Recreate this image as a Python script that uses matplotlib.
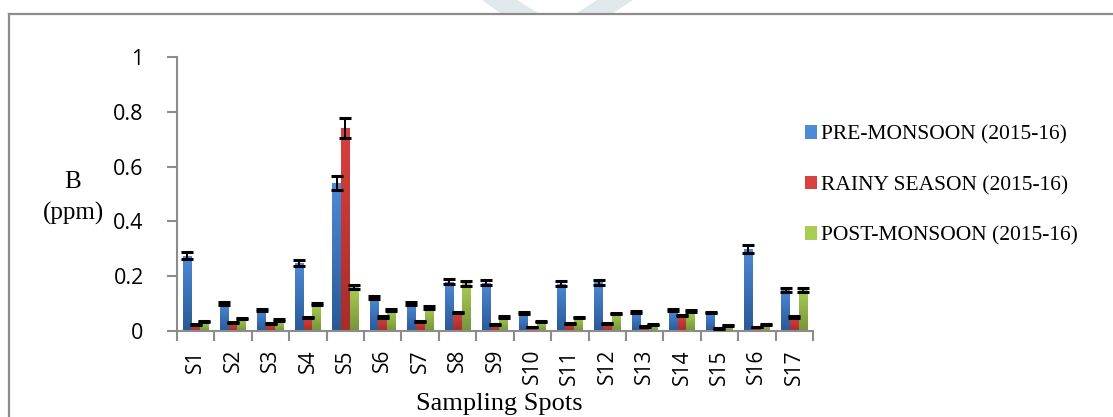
import numpy as np
import matplotlib
matplotlib.use("Agg")
import matplotlib.pyplot as plt
from matplotlib.colors import LinearSegmentedColormap
from matplotlib.lines import Line2D
from matplotlib.patches import Patch, Polygon

# Boron (ppm) at each sampling spot, three seasons of 2015-16
spots = ["S1", "S2", "S3", "S4", "S5", "S6", "S7", "S8", "S9", "S10",
         "S11", "S12", "S13", "S14", "S15", "S16", "S17"]
pre_monsoon = [0.275, 0.100, 0.077, 0.248, 0.540, 0.123, 0.100, 0.180, 0.177,
               0.065, 0.172, 0.178, 0.070, 0.076, 0.067, 0.300, 0.150]
pre_err = [0.014, 0.005, 0.004, 0.012, 0.027, 0.006, 0.005, 0.009, 0.009,
           0.003, 0.009, 0.009, 0.004, 0.004, 0.003, 0.015, 0.007]
rainy = [0.024, 0.032, 0.026, 0.049, 0.740, 0.050, 0.034, 0.067, 0.025,
         0.015, 0.026, 0.028, 0.017, 0.057, 0.010, 0.015, 0.052]
rainy_err = [0.002, 0.002, 0.002, 0.003, 0.036, 0.003, 0.002, 0.003, 0.002,
             0.001, 0.002, 0.002, 0.001, 0.003, 0.001, 0.001, 0.003]
post_monsoon = [0.036, 0.044, 0.040, 0.099, 0.160, 0.077, 0.086, 0.174, 0.052,
                0.036, 0.049, 0.064, 0.024, 0.072, 0.020, 0.023, 0.150]
post_err = [0.002, 0.002, 0.002, 0.005, 0.008, 0.004, 0.004, 0.009, 0.003,
            0.002, 0.002, 0.003, 0.001, 0.004, 0.001, 0.001, 0.007]
series_names = ["PRE-MONSOON (2015-16)", "RAINY SEASON (2015-16)",
                "POST-MONSOON (2015-16)"]
y_ticks = [0, 0.2, 0.4, 0.6, 0.8, 1.0]
y_tick_labels = ["0", "0.2", "0.4", "0.6", "0.8", "1"]

# (top colour, bottom colour) for the shaded fills
shades = [("#4d8ad8", "#2a5996"), ("#d8413e", "#a52d2b"), ("#a9cc52", "#76953a")]
AXIS_GREY = "#8c8c8c"
SANS = "Open Sans"
SERIF = "Liberation Serif"

fig = plt.figure(figsize=(11.13, 4.17), dpi=100)
ax = fig.add_axes([177 / 1113, 1 - 331 / 417, 636 / 1113, 274 / 417])

x = np.arange(len(spots))
width = 0.233
grad = np.linspace(0, 1, 64).reshape(-1, 1)

data = [(pre_monsoon, pre_err), (rainy, rainy_err), (post_monsoon, post_err)]
for k, (vals, errs) in enumerate(data):
    pos = x + (k - 1) * width
    bars = ax.bar(pos, vals, width, color="none", edgecolor="none", zorder=2)
    cmap = LinearSegmentedColormap.from_list(f"shade{k}", [shades[k][1], shades[k][0]])
    for bar in bars:
        bx, by = bar.get_xy()
        im = ax.imshow(grad, extent=[bx, bx + bar.get_width(), by, by + bar.get_height()],
                       origin="lower", aspect="auto", cmap=cmap, zorder=2,
                       interpolation="bilinear")
        im.set_clip_path(bar)
    ax.errorbar(pos, vals, yerr=errs, fmt="none", ecolor="black",
                elinewidth=1.4, capsize=4.6, capthick=2.2, zorder=3)

ax.set_xlim(-0.5, len(spots) - 0.5)
ax.set_ylim(0, 1)
ax.set_aspect("auto")

for side in ["top", "right"]:
    ax.spines[side].set_visible(False)
for side in ["left", "bottom"]:
    ax.spines[side].set_color(AXIS_GREY)
    ax.spines[side].set_linewidth(1.5)

ax.set_yticks(y_ticks, y_tick_labels)
ax.tick_params(axis="y", length=7, width=1.5, color=AXIS_GREY, pad=17,
               labelsize=15.5)
ax.set_xticks(x, spots, rotation=90)
ax.set_xticks(np.arange(len(spots) + 1) - 0.5, minor=True)
ax.tick_params(axis="x", which="major", length=0, pad=13, labelsize=15)
ax.tick_params(axis="x", which="minor", length=7, width=1.5, color=AXIS_GREY)
for lab in ax.get_xticklabels() + ax.get_yticklabels():
    lab.set_fontfamily(SANS)

fig.text(499 / 1113, 1 - 404 / 417, "Sampling Spots", family=SERIF,
         fontsize=19, ha="center", va="center")
fig.text(73 / 1113, 1 - 182 / 417, "B", family=SERIF, fontsize=18,
         ha="center", va="center")
fig.text(73 / 1113, 1 - 213 / 417, "(ppm)", family=SERIF, fontsize=18,
         ha="center", va="center")

handles = [Patch(facecolor=s[0], edgecolor="none") for s in shades]
fig.legend(handles, series_names, loc="upper left",
           bbox_to_anchor=(805 / 1113, 1 - 125 / 417), frameon=False,
           prop={"family": SERIF, "size": 15.5}, handlelength=0.55,
           handleheight=0.6, handletextpad=0.2, labelspacing=1.45,
           borderpad=0, borderaxespad=0)

# frame around the chart area
fig.add_artist(Line2D([8.5 / 1113, 8.5 / 1113], [1 - 14 / 417, 0],
                      color=AXIS_GREY, lw=1.6))
fig.add_artist(Line2D([8.5 / 1113, 1], [1 - 14 / 417, 1 - 14 / 417],
                      color=AXIS_GREY, lw=1.6))

# faint logo strokes above the frame
for pts in [[(482, 0), (517, 0), (538, 13), (500, 13)],
            [(597, 0), (633, 0), (613, 13), (577, 13)]]:
    fig.add_artist(Polygon([(px / 1113, 1 - py / 417) for px, py in pts],
                           closed=True, facecolor="#e1e8ec", edgecolor="none",
                           transform=fig.transFigure))

fig.savefig("out.png", dpi=100)
